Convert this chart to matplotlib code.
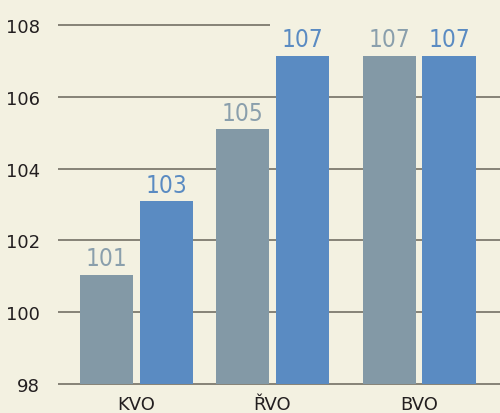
import numpy as np
import matplotlib.pyplot as plt
from matplotlib import font_manager

categories = ["KVO", "ŘVO", "BVO"]
series_a = [101.05, 105.1, 107.15]   # gray
series_b = [103.1, 107.15, 107.15]   # blue
labels_a = ["101", "105", "107"]
labels_b = ["103", "107", "107"]
yticks = [98, 100, 102, 104, 106, 108]

bg = "#F3F1E1"
gray = "#8399A6"
blue = "#5A8BC2"
grid_col = "#7D7A6E"

names = {f.name for f in font_manager.fontManager.ttflist}
narrow = [n for n in ["Liberation Sans Narrow", "DejaVu Sans Condensed"] if n in names]
val_font = dict(family=narrow + ["DejaVu Sans"], stretch="condensed")

fig = plt.figure(figsize=(5, 4.14), dpi=100, facecolor=bg)
ax = fig.add_axes([0.116, 0.070, 0.884, 0.867], facecolor=bg)

centers = np.array([0.78, 2.14, 3.61])
width = 0.53
offset = 0.30

# gridlines (top one only runs part way)
for y in yticks:
    x_end = 2.12 if y == 108 else 4.42
    ax.hlines(y, 0, x_end, color=grid_col, linewidth=1.3, zorder=1, clip_on=False)

ax.bar(centers - offset, series_a, width, bottom=0, color=gray, zorder=2)
ax.bar(centers + offset, series_b, width, bottom=0, color=blue, zorder=2)

for x, v, t in zip(centers - offset, series_a, labels_a):
    ax.annotate(t, (x, v), xytext=(0, 3), textcoords="offset points",
                ha="center", va="bottom", color="#8A9FAC", fontsize=17.5, **val_font)
for x, v, t in zip(centers + offset, series_b, labels_b):
    ax.annotate(t, (x, v), xytext=(0, 3), textcoords="offset points",
                ha="center", va="bottom", color=blue, fontsize=17.5, **val_font)

ax.set_xlim(0, 4.42)
ax.set_ylim(98, 108)
ax.set_yticks(yticks)
ax.set_yticklabels([str(t) for t in yticks], fontsize=13, color="#231F20")
ax.set_xticks(centers)
ax.set_xticklabels(categories, fontsize=13, color="#231F20")
ax.tick_params(length=0)
ax.tick_params(axis="y", pad=13)
ax.tick_params(axis="x", pad=8)
for s in ax.spines.values():
    s.set_visible(False)

fig.savefig("out.png", dpi=100, facecolor=bg)
